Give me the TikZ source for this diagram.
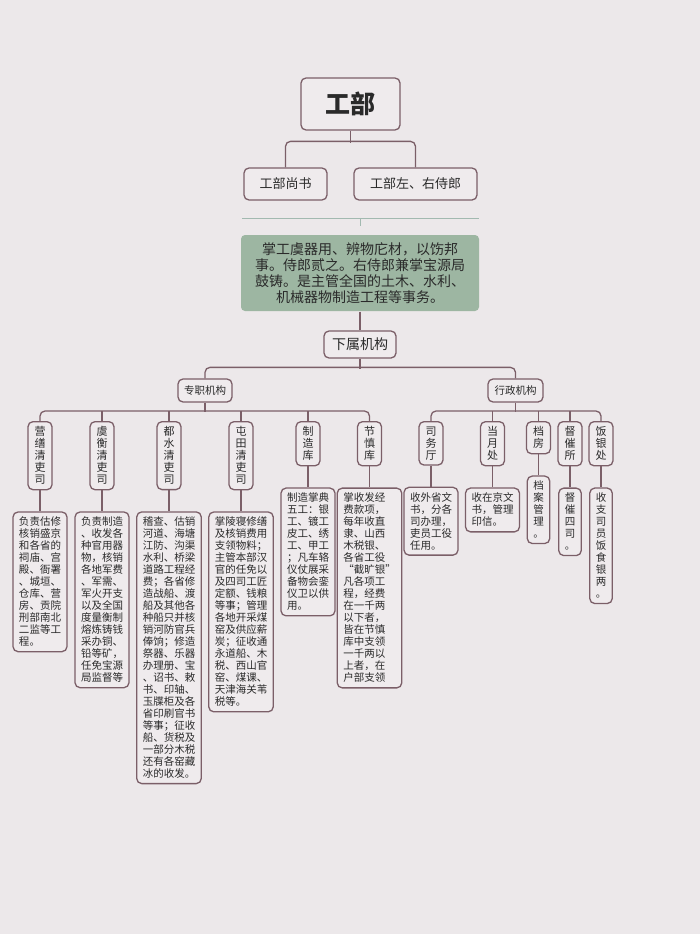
\documentclass[tikz,border=0pt]{standalone}
\usepackage{fontspec}
\setmainfont{Noto Sans CJK SC}
\usetikzlibrary{positioning}
\definecolor{bgc}{HTML}{ECE8EA}
\definecolor{boxc}{HTML}{EFEBED}
\definecolor{edge}{HTML}{7B5F68}
\definecolor{sage}{HTML}{9DB6A2}
\definecolor{rulec}{HTML}{A2B9B0}
\definecolor{ink}{HTML}{2A2A2A}

\begin{document}
\begin{tikzpicture}[x=1pt, y=-1pt,
  box/.style={draw=edge, line width=1.3pt, rounded corners=5pt, fill=boxc, text=ink, inner sep=0pt, align=center},
  vbox/.style={box, anchor=north, inner xsep=6.5pt, inner ysep=5pt, font=\fontsize{11}{12}\selectfont},
  desc/.style={box, align=left, inner xsep=6pt, inner ysep=5pt, font=\fontsize{10.5}{12}\selectfont},
  conn/.style={draw=edge, line width=1.3pt, rounded corners=5pt},
  rule/.style={draw=rulec, line width=0.9pt}]
  \fill[bgc] (0,0) rectangle (700,934);
  \useasboundingbox (0,0) rectangle (700,934);
  % head of the ministry
  \node[box, minimum width=99pt, minimum height=52pt, font=\fontsize{25}{30}\selectfont\bfseries] (gb) at (350.5,104) {工部};
  \node[box, minimum width=83pt, minimum height=32pt, font=\fontsize{13}{15}\selectfont] (ss) at (285.5,184) {工部尚书};
  \node[box, minimum width=123pt, minimum height=32pt, font=\fontsize{13}{15}\selectfont] (sl) at (415.5,184) {工部左、右侍郎};
  \draw[conn] (gb.south) -- ++(0,12);
  \draw[conn] (ss.north) -- ++(0,-26) -| (sl.north);
  % duties
  \coordinate (rl) at (242,218);
  \coordinate (rr) at (479,218);
  \node[box, draw=none, fill=sage, rounded corners=4pt, minimum width=238pt, minimum height=76pt, font=\fontsize{14}{16}\selectfont] (gm) at (360,273)
    {掌工虞器用、辨物庀材，以饬邦\\事。侍郎贰之。右侍郎兼掌宝源局\\鼓铸。是主管全国的土木、水利、\\机械器物制造工程等事务。};
  \draw[rule] (rl) -- (rr);
  \draw[rule] (gm.north |- rl) -- ++(0,8);
  \node[box, minimum width=72pt, minimum height=27pt, font=\fontsize{14}{16}\selectfont] (xs) at (360,344.5) {下属机构};
  \draw[conn] (gm) -- (xs);
  \node[box, minimum width=54pt, minimum height=23pt, font=\fontsize{10.5}{12}\selectfont] (zz) at (205,390.5) {专职机构};
  \node[box, minimum width=55pt, minimum height=23pt, font=\fontsize{10.5}{12}\selectfont] (xz) at (515.5,390.5) {行政机构};
  \draw[conn] (xs.south) -- ++(0,10);
  \draw[conn] (zz.north) -- ++(0,-11) -| (xz.north);
  % dedicated offices
  \node[vbox] (ys) at (40,421) {营\\缮\\清\\吏\\司};
  \node[vbox] (yh) at (102,421) {虞\\衡\\清\\吏\\司};
  \node[vbox] (ds) at (169,421) {都\\水\\清\\吏\\司};
  \node[vbox] (tt) at (241,421) {屯\\田\\清\\吏\\司};
  \node[vbox] (zk) at (308,421) {制\\造\\库};
  \node[vbox] (js) at (369.5,421) {节\\慎\\库};
  \draw[conn] (zz.south) -- ++(0,9);
  \draw[conn] (ys.north) -- ++(0,-10) -| (js.north);
  \foreach \n in {yh,ds,tt,zk} {\draw[conn] (\n.north) -- ++(0,-10);}
  \node[desc, below=21pt of ys] (ysd) {负责估修\\核销盛京\\和各省的\\祠庙、宫\\殿、衙署\\、城垣、\\仓库、营\\房、贡院\\刑部南北\\二监等工\\程。};
  \node[desc, below=21pt of yh] (yhd) {负责制造\\、收发各\\种官用器\\物，核销\\各地军费\\、军需、\\军火开支\\以及全国\\度量衡制\\熔炼铸钱\\采办铜、\\铅等矿，\\任免宝源\\局监督等};
  \node[desc, below=21pt of ds] (dsd) {稽查、估销\\河道、海塘\\江防、沟渠\\水利、桥梁\\道路工程经\\费；各省修\\造战船、渡\\船及其他各\\种船只并核\\销河防官兵\\俸饷；修造\\祭器、乐器\\办理册、宝\\、诏书、敕\\书、印轴、\\玉牒柜及各\\省印刷官书\\等事；征收\\船、货税及\\一部分木税\\还有各窑藏\\冰的收发。};
  \node[desc, below=21pt of tt] (ttd) {掌陵寝修缮\\及核销费用\\支领物料；\\主管本部汉\\官的任免以\\及四司工匠\\定额、钱粮\\等事；管理\\各地开采煤\\窑及供应薪\\炭；征收通\\永道船、木\\税、西山官\\窑、煤课、\\天津海关苇\\税等。};
  \node[desc, below=21pt of zk] (zkd) {制造掌典\\五工：银\\工、镀工\\皮工、绣\\工、甲工\\；凡车辂\\仪仗展采\\备物会銮\\仪卫以供\\用。};
  \node[desc, below=21pt of js] (jsd) {掌收发经\\费款项，\\每年收直\\隶、山西\\木税银、\\各省工役\\“截旷银”\\凡各项工\\程，经费\\在一千两\\以下者，\\皆在节慎\\库中支领\\一千两以\\上者，在\\户部支领};
  \foreach \n in {ys,yh,ds,tt,zk,js} {\draw[conn] (\n) -- (\n d);}
  % administrative offices
  \node[vbox] (sw) at (431,421) {司\\务\\厅};
  \node[vbox] (dy) at (492.5,421) {当\\月\\处};
  \node[vbox] (df) at (538.5,421) {档\\房};
  \node[vbox] (dc) at (570,421) {督\\催\\所};
  \node[vbox] (fy) at (601,421) {饭\\银\\处};
  \draw[conn] (xz.south) -- ++(0,9);
  \draw[conn] (sw.north) -- ++(0,-10) -| (fy.north);
  \foreach \n in {dy,df,dc} {\draw[conn] (\n.north) -- ++(0,-10);}
  \node[desc, below=21pt of sw] (swd) {收外省文\\书，分各\\司办理，\\吏员工役\\任用。};
  \node[desc, below=21pt of dy] (dyd) {收在京文\\书，管理\\印信。};
  \node[desc, align=center, below=21pt of df] (dfd) {档\\案\\管\\理\\。};
  \node[desc, align=center, below=21pt of dc] (dcd) {督\\催\\四\\司\\。};
  \node[desc, align=center, below=21pt of fy] (fyd) {收\\支\\司\\员\\饭\\食\\银\\两\\。};
  \foreach \n in {sw,dy,df,dc,fy} {\draw[conn] (\n) -- (\n d);}
\end{tikzpicture}
\end{document}
